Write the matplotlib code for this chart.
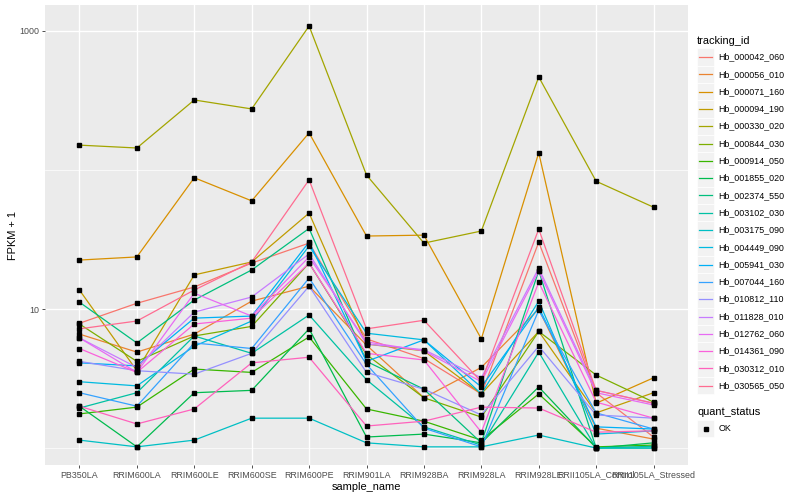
import matplotlib
matplotlib.use("Agg")
import matplotlib.pyplot as plt
import numpy as np

plt.rcParams['font.family'] = ['Liberation Sans', 'DejaVu Sans']

samples = ["PB350LA", "RRIM600LA", "RRIM600LE", "RRIM600SE", "RRIM600PE",
           "RRIM901LA", "RRIM928BA", "RRIM928LA", "RRIM928LE",
           "RRII105LA_Control", "RRII105LA_Stressed"]

tracking_ids = ["Hb_000042_060", "Hb_000056_010", "Hb_000071_160", "Hb_000094_190",
                "Hb_000330_020", "Hb_000844_030", "Hb_000914_050", "Hb_001855_020",
                "Hb_002374_550", "Hb_003102_030", "Hb_003175_090", "Hb_004449_090",
                "Hb_005941_030", "Hb_007044_160", "Hb_010812_110", "Hb_011828_010",
                "Hb_012762_060", "Hb_014361_090", "Hb_030312_010", "Hb_030565_050"]

colors = ["#F8766D", "#EA8331", "#D89000", "#C09B00", "#A3A500", "#7CAE00",
          "#39B600", "#00BB4E", "#00BF7D", "#00C1A3", "#00BFC4", "#00BAE0",
          "#00B0F6", "#35A2FF", "#9590FF", "#C77CFF", "#E76BF3", "#FA62DB",
          "#FF62BC", "#FF6C91"]

# FPKM + 1 per sample
Hb_000042_060 = [7.9, 11.0, 14.4, 21.4, 29.8, 6.1, 4.4, 2.45, 30.3, 2.5, 1.2]
Hb_000056_010 = [6.6, 4.9, 6.6, 11.4, 14.6, 5.5, 2.3, 3.8, 10.0, 1.39, 1.16]
Hb_000071_160 = [22.5, 23.7, 88, 60, 185, 33.5, 34, 6.1, 133, 2.1, 3.2]
Hb_000094_190 = [13.7, 3.6, 17.6, 21.8, 49, 5.6, 5.0, 2.45, 6.9, 1.79, 2.5]
Hb_000330_020 = [151, 144, 319, 275, 1086, 92, 29.8, 36.4, 467, 83, 54]
Hb_000844_030 = [7.8, 4.2, 6.4, 7.5, 21.4, 4.7, 2.3, 1.67, 6.9, 3.35, 2.14]
Hb_000914_050 = [1.76, 1.97, 3.7, 3.5, 6.3, 1.91, 1.56, 1.14, 2.45, 1.02, 1.05]
Hb_001855_020 = [2.0, 1.02, 2.5, 2.6, 7.2, 1.2, 1.26, 1.09, 2.75, 1.0, 1.09]
Hb_002374_550 = [11.2, 5.7, 11.6, 19.1, 38, 4.2, 2.65, 1.09, 18.8, 1.0, 1.0]
Hb_003102_030 = [1.94, 2.5, 6.4, 4.8, 9.06, 3.1, 1.42, 1.05, 4.9, 1.0, 1.03]
Hb_003175_090 = [1.14, 1.02, 1.14, 1.64, 1.64, 1.09, 1.02, 1.02, 1.24, 1.0, 1.0]
Hb_004449_090 = [3.0, 2.8, 5.4, 8.2, 28.4, 6.7, 6.0, 2.45, 11.4, 1.26, 1.33]
Hb_005941_030 = [4.1, 3.9, 8.6, 8.9, 30.3, 4.2, 6.0, 2.75, 10.3, 1.42, 1.37]
Hb_007044_160 = [2.5, 2.0, 5.7, 5.2, 16.7, 4.0, 1.39, 1.02, 9.8, 1.79, 1.37]
Hb_010812_110 = [4.2, 3.6, 3.4, 4.8, 14.6, 3.5, 2.65, 1.73, 5.4, 1.73, 1.64]
Hb_011828_010 = [6.2, 3.8, 9.5, 12.2, 24.9, 5.6, 5.1, 3.2, 19.7, 2.6, 2.1]
Hb_012762_060 = [6.2, 3.5, 13.0, 8.9, 23.7, 5.8, 5.0, 3.0, 18.8, 2.5, 2.04]
Hb_014361_090 = [5.2, 3.5, 7.8, 8.6, 21.4, 4.8, 4.3, 1.30, 15.6, 2.14, 1.64]
Hb_030312_010 = [2.0, 1.49, 1.91, 4.1, 4.5, 1.44, 1.56, 1.97, 1.94, 1.30, 1.33]
Hb_030565_050 = [7.2, 8.2, 13.7, 21.8, 85, 7.2, 8.3, 3.0, 37.6, 2.6, 2.1]

series = [Hb_000042_060, Hb_000056_010, Hb_000071_160, Hb_000094_190,
          Hb_000330_020, Hb_000844_030, Hb_000914_050, Hb_001855_020,
          Hb_002374_550, Hb_003102_030, Hb_003175_090, Hb_004449_090,
          Hb_005941_030, Hb_007044_160, Hb_010812_110, Hb_011828_010,
          Hb_012762_060, Hb_014361_090, Hb_030312_010, Hb_030565_050]

W, H = 800, 500
fig = plt.figure(figsize=(8, 5), dpi=100)
fig.patch.set_facecolor("white")

pl, pr, pt, pb = 45, 688, 5, 465
ax = fig.add_axes([pl / W, 1 - pb / H, (pr - pl) / W, (pb - pt) / H])
ax.set_facecolor("#EBEBEB")
for s in ax.spines.values():
    s.set_visible(False)

x = np.arange(len(samples))
ax.set_yscale("log")
ax.set_xlim(-0.6, len(samples) - 1 + 0.6)
ax.set_ylim(10 ** -0.122, 10 ** 3.187)

# grid
for v in [1, 100]:
    ax.axhline(v, color="white", lw=0.5, zorder=0.5)
for v in [10, 1000]:
    ax.axhline(v, color="white", lw=1.0, zorder=0.6)
for xi in x:
    ax.axvline(xi, color="white", lw=1.0, zorder=0.6)

for vals, c in zip(series, colors):
    ax.plot(x, vals, color=c, lw=0.9, zorder=2, solid_capstyle="butt")
for vals in series:
    ax.plot(x, vals, linestyle="none", marker="s", markersize=2.2,
            color="black", zorder=3)

ax.set_yticks([10, 1000])
ax.set_yticklabels(["10", "1000"])
ax.yaxis.set_minor_locator(matplotlib.ticker.NullLocator())
ax.set_xticks(x)
ax.set_xticklabels(samples)
ax.tick_params(axis="both", which="major", length=2.5, width=0.6,
               color="#333333", labelcolor="#4D4D4D", labelsize=6.4, pad=1.5)
ax.set_xlabel("sample_name", fontsize=7.9, color="black", labelpad=1.5)
ax.set_ylabel("FPKM + 1", fontsize=7.9, color="black", labelpad=1)

# legend drawn in figure pixel coordinates
lg = fig.add_axes([0, 0, 1, 1], facecolor="none")
lg.set_xlim(0, W)
lg.set_ylim(H, 0)
lg.axis("off")
key = 17.3
lx = 697
lg.text(lx, 40.5, "tracking_id", fontsize=7.9, va="center", ha="left")
y0 = 57
for i, (name, c) in enumerate(zip(tracking_ids, colors)):
    yc = y0 + i * key
    lg.add_patch(plt.Rectangle((lx, yc - key / 2), key, key,
                               facecolor="#F2F2F2", edgecolor="white", lw=0.5))
    lg.plot([lx + 2, lx + key - 2], [yc, yc], color=c, lw=0.9)
    lg.text(lx + key + 4, yc, name, fontsize=6.4, va="center", ha="left")

lg.text(lx, 412, "quant_status", fontsize=7.9, va="center", ha="left")
yc = 428.5
lg.add_patch(plt.Rectangle((lx, yc - key / 2), key, key,
                           facecolor="#F2F2F2", edgecolor="white", lw=0.5))
lg.plot([lx + key / 2], [yc], marker="s", markersize=2.2, color="black")
lg.text(lx + key + 4, yc, "OK", fontsize=6.4, va="center", ha="left")

fig.savefig("out.png", dpi=100)
